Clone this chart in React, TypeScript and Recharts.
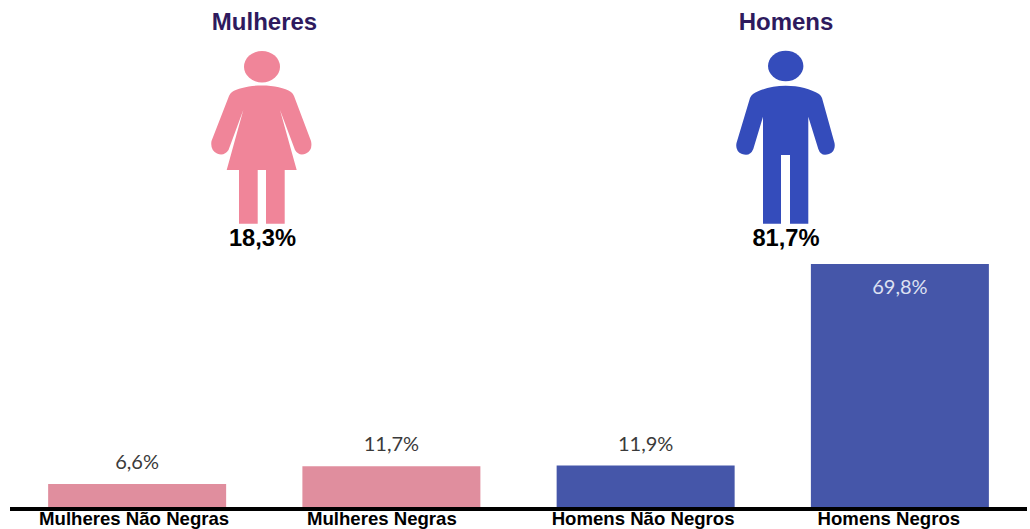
import { BarChart, Bar, XAxis, YAxis, Cell, LabelList } from 'recharts';

const categories = ['Mulheres Não Negras', 'Mulheres Negras', 'Homens Não Negros', 'Homens Negros'];
const values = [6.6, 11.7, 11.9, 69.8];
const barColors = ['#E08E9E', '#E08E9E', '#4556A9', '#4556A9'];

const groupTitles = ['Mulheres', 'Homens'];
const groupShares = ['18,3%', '81,7%'];

const chartData = categories.map((name, i) => ({ name, value: values[i] }));

const ARIAL = '"Liberation Sans", Arial, sans-serif';

// no original os nomes nao ficam bem centrados sob as barras
const TICK_SHIFT = [-3, -9.5, -2.5, -11];

const CategoryTick = ({ x, index, payload }: any) => (
  <text
    x={x + TICK_SHIFT[index]}
    y={525}
    textAnchor="middle"
    fontFamily={ARIAL}
    fontSize={18.6}
    fontWeight={700}
    fill="#000"
  >
    {payload.value}
  </text>
);

// rotulo fora da barra, menos na barra alta onde fica dentro
const ValueLabel = ({ x, y, width, value }: any) => {
  const inside = value > 50;
  return (
    <text
      x={x + width / 2}
      y={inside ? y + 30 : y - 15}
      textAnchor="middle"
      fontFamily="Lato, sans-serif"
      fontSize={20}
      fill={inside ? '#DDE1F2' : '#3A3A3A'}
    >
      {String(value).replace('.', ',') + '%'}
    </text>
  );
};

const WomanIcon = () => (
  <g fill="#F08599">
    <ellipse cx={262} cy={66.7} rx={18} ry={15.7} />
    <path d="M262 85.5 C274 85.5 285 88 291 92 Q293 93.5 294 96 L311 141 Q313 150 306 153.5 Q299 156.5 295 150 L280 110 L296.7 170 L284.7 170 L284.7 223.7 L266 223.7 L266 170 L257.7 170 L257.7 223.7 L239 223.7 L239 170 L226.7 170 L243.3 110 L228.5 150 Q224 156.5 217 153.5 Q210 150 211.5 141 L229 96 Q230 93.5 232 92 C238 88 250 85.5 262 85.5 Z" />
  </g>
);

const ManIcon = () => (
  <g fill="#344CBB">
    <ellipse cx={785.7} cy={66} rx={17.7} ry={15.3} />
    <path d="M785.7 85.7 C799 85.7 811 89 819 94 Q821 95.5 822 98 L834.5 143 Q836 151 829 154 Q821 157 818.3 149 L808.3 116.7 L808.3 223.7 L790 223.7 L790 155 L781 155 L781 223.7 L763 223.7 L763 116.7 L753.3 149 Q750 157 742 154 Q735 151 736.5 143 L750 98 Q751 95.5 753 94 C761 89 773 85.7 785.7 85.7 Z" />
  </g>
);

export default function App() {
  return (
    <div style={{ position: 'absolute', left: 0, top: 0, width: 1030, height: 529, overflow: 'hidden', background: '#fff' }}>
      <BarChart
        width={1030}
        height={529}
        data={chartData}
        margin={{ top: 264, right: 3, left: 10, bottom: 0 }}
        barCategoryGap="15%"
      >
        <XAxis
          dataKey="name"
          interval={0}
          height={22}
          tickLine={false}
          axisLine={{ stroke: '#000', strokeWidth: 4, transform: 'translate(0, 2)' }}
          tick={<CategoryTick />}
        />
        <YAxis hide domain={[0, 69.8]} />
        <Bar dataKey="value" isAnimationActive={false}>
          {chartData.map((d, i) => (
            <Cell key={d.name} fill={barColors[i]} />
          ))}
          <LabelList dataKey="value" content={<ValueLabel />} />
        </Bar>
      </BarChart>

      <svg width={1030} height={264} style={{ position: 'absolute', left: 0, top: 0 }}>
        <text x={264.5} y={30} textAnchor="middle" fontFamily={ARIAL} fontSize={24} fontWeight={700} fill="#2E1A5E">
          {groupTitles[0]}
        </text>
        <text x={786} y={30} textAnchor="middle" fontFamily={ARIAL} fontSize={24} fontWeight={700} fill="#2E1A5E">
          {groupTitles[1]}
        </text>
        <WomanIcon />
        <ManIcon />
        <text x={262.5} y={246} textAnchor="middle" fontFamily={ARIAL} fontSize={23.7} fontWeight={700} fill="#000">
          {groupShares[0]}
        </text>
        <text x={786} y={246} textAnchor="middle" fontFamily={ARIAL} fontSize={23.7} fontWeight={700} fill="#000">
          {groupShares[1]}
        </text>
      </svg>
    </div>
  );
}
